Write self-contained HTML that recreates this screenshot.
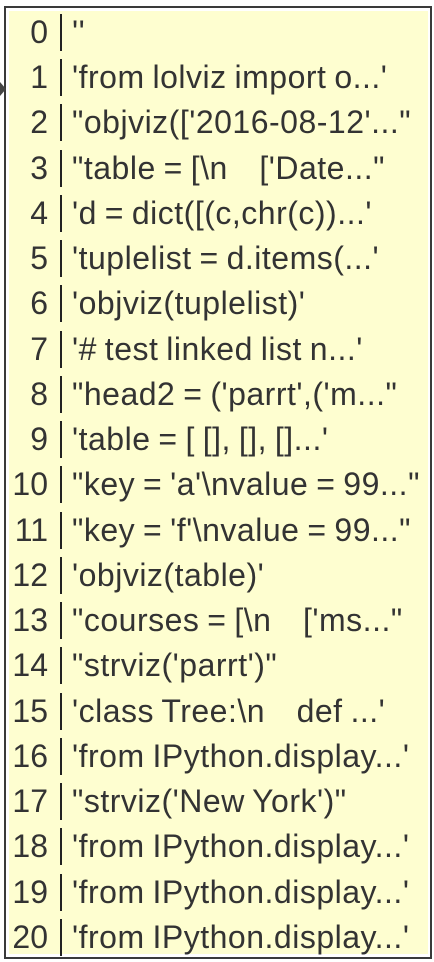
<!DOCTYPE html>
<html><head><meta charset="utf-8"><style>
html,body{margin:0;padding:0;background:#fff;width:434px;height:962px;overflow:hidden}
.box{position:absolute;left:4px;top:6px;width:424px;height:949px;border:2px solid #3a3a3a;background:#fff}
.fill{position:absolute;left:9px;top:11px;width:419px;height:943px;background:#fefed0}
.row{position:absolute;left:0;height:45px;font-family:"Liberation Sans",sans-serif;font-size:32px;color:#333;line-height:45px;white-space:pre}
.n{position:absolute;right:386px;width:60px;text-align:right}
.t{position:absolute;left:72px;letter-spacing:0.5px;word-spacing:-1.5px}
.sep{position:absolute;left:60px;width:2px;background:#222}
</style></head><body>
<div class="box"></div><div class="fill"></div>
<svg style="position:absolute;left:0;top:80px" width="8" height="18"><polygon points="0,2 6,9 0,16" fill="#444"/></svg>
<div style="position:absolute;left:0;top:0">
<div class="row" style="top:10px;width:434px"><span class="n">0</span><span class="t">''</span></div>
<div class="row" style="top:55px;width:434px"><span class="n">1</span><span class="t">'from lolviz import o...'</span></div>
<div class="row" style="top:100px;width:434px"><span class="n">2</span><span class="t">"objviz(['2016-08-12'..."</span></div>
<div class="row" style="top:146px;width:434px"><span class="n">3</span><span class="t">"table = [\n    ['Date..."</span></div>
<div class="row" style="top:191px;width:434px"><span class="n">4</span><span class="t">'d = dict([(c,chr(c))...'</span></div>
<div class="row" style="top:236px;width:434px"><span class="n">5</span><span class="t">'tuplelist = d.items(...'</span></div>
<div class="row" style="top:281px;width:434px"><span class="n">6</span><span class="t">'objviz(tuplelist)'</span></div>
<div class="row" style="top:327px;width:434px"><span class="n">7</span><span class="t">'# test linked list n...'</span></div>
<div class="row" style="top:372px;width:434px"><span class="n">8</span><span class="t">"head2 = ('parrt',('m..."</span></div>
<div class="row" style="top:417px;width:434px"><span class="n">9</span><span class="t">'table = [ [], [], []...'</span></div>
<div class="row" style="top:462px;width:434px"><span class="n">10</span><span class="t">"key = 'a'\nvalue = 99..."</span></div>
<div class="row" style="top:508px;width:434px"><span class="n">11</span><span class="t">"key = 'f'\nvalue = 99..."</span></div>
<div class="row" style="top:553px;width:434px"><span class="n">12</span><span class="t">'objviz(table)'</span></div>
<div class="row" style="top:598px;width:434px"><span class="n">13</span><span class="t">"courses = [\n    ['ms..."</span></div>
<div class="row" style="top:643px;width:434px"><span class="n">14</span><span class="t">"strviz('parrt')"</span></div>
<div class="row" style="top:689px;width:434px"><span class="n">15</span><span class="t">'class Tree:\n    def ...'</span></div>
<div class="row" style="top:734px;width:434px"><span class="n">16</span><span class="t">'from IPython.display...'</span></div>
<div class="row" style="top:779px;width:434px"><span class="n">17</span><span class="t">"strviz('New York')"</span></div>
<div class="row" style="top:824px;width:434px"><span class="n">18</span><span class="t">'from IPython.display...'</span></div>
<div class="row" style="top:870px;width:434px"><span class="n">19</span><span class="t">'from IPython.display...'</span></div>
<div class="row" style="top:915px;width:434px"><span class="n">20</span><span class="t">'from IPython.display...'</span></div>
</div>
<div class="sep" style="top:14px;height:37px"></div>
<div class="sep" style="top:59px;height:37px"></div>
<div class="sep" style="top:104px;height:37px"></div>
<div class="sep" style="top:150px;height:37px"></div>
<div class="sep" style="top:195px;height:37px"></div>
<div class="sep" style="top:240px;height:37px"></div>
<div class="sep" style="top:285px;height:37px"></div>
<div class="sep" style="top:331px;height:37px"></div>
<div class="sep" style="top:376px;height:37px"></div>
<div class="sep" style="top:421px;height:37px"></div>
<div class="sep" style="top:466px;height:37px"></div>
<div class="sep" style="top:512px;height:37px"></div>
<div class="sep" style="top:557px;height:37px"></div>
<div class="sep" style="top:602px;height:37px"></div>
<div class="sep" style="top:647px;height:37px"></div>
<div class="sep" style="top:693px;height:37px"></div>
<div class="sep" style="top:738px;height:37px"></div>
<div class="sep" style="top:783px;height:37px"></div>
<div class="sep" style="top:828px;height:37px"></div>
<div class="sep" style="top:874px;height:37px"></div>
<div class="sep" style="top:919px;height:37px"></div>
</body></html>
